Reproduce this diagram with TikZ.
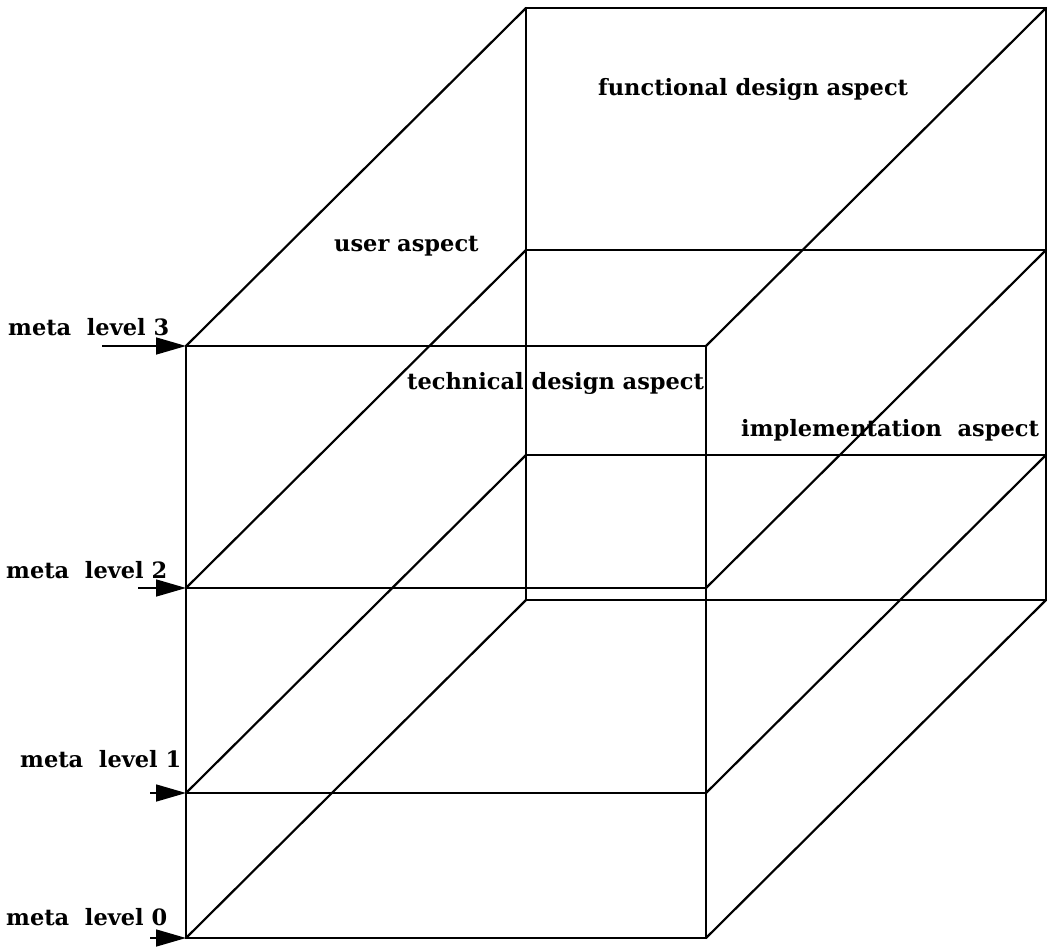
\documentclass[tikz,border=0pt]{standalone}
\usepackage{fontspec}
\setmainfont{DejaVu Serif}
\usetikzlibrary{arrows.meta}
\begin{document}
\begin{tikzpicture}[x=1pt,y=-1pt,
  edge/.style={line width=2.2pt,line cap=round,line join=round},
  levelarrow/.style={line width=1.6pt,-{Triangle[length=30pt,width=17pt]}},
  lbl/.style={font=\fontsize{22.5}{26}\selectfont\bfseries,inner sep=0pt,anchor=base west}]
\useasboundingbox (0,0) rectangle (1056,949);
% front face corners per level (L = left, R = right)
\foreach \n/\y in {3/346,2/588,1/793,0/938}{
  \coordinate (FL\n) at (186,\y);
  \coordinate (FR\n) at (706,\y);
  \coordinate (BL\n) at (526,\y-338);
  \coordinate (BR\n) at (1046,\y-338);
}
% vertical edges
\draw[edge] (FL3) -- (FL0);
\draw[edge] (FR3) -- (FR0);
\draw[edge] (BL3) -- (BL0);
\draw[edge] (BR3) -- (BR0);
% horizontal edges and receding diagonals at each level
\foreach \n in {3,2,1,0}{
  \draw[edge] (FL\n) -- (FR\n);
  \draw[edge] (BL\n) -- (BR\n);
  \draw[edge] (FL\n) -- (BL\n);
  \draw[edge] (FR\n) -- (BR\n);
}
% level arrows
\coordinate (A3) at (102,346);
\coordinate (A2) at (138,588);
\coordinate (A1) at (150,793);
\coordinate (A0) at (150,938);
\foreach \n in {3,2,1,0}{\draw[levelarrow] (A\n) -- (FL\n);}
% labels
\node[lbl] (m3) at (8,335) {meta\ \ level 3};
\node[lbl] (m2) at (6,578) {meta\ \ level 2};
\node[lbl] (m1) at (20,767) {meta\ \ level 1};
\node[lbl] (m0) at (6,925) {meta\ \ level 0};
\node[lbl] (fda) at (598,96) {functional design aspect};
\node[lbl] (ua) at (334,252) {user aspect};
\node[lbl] (tda) at (407,389) {technical design aspect};
\node[lbl] (ia) at (741,436) {implementation\ \ aspect};
\end{tikzpicture}
\end{document}
